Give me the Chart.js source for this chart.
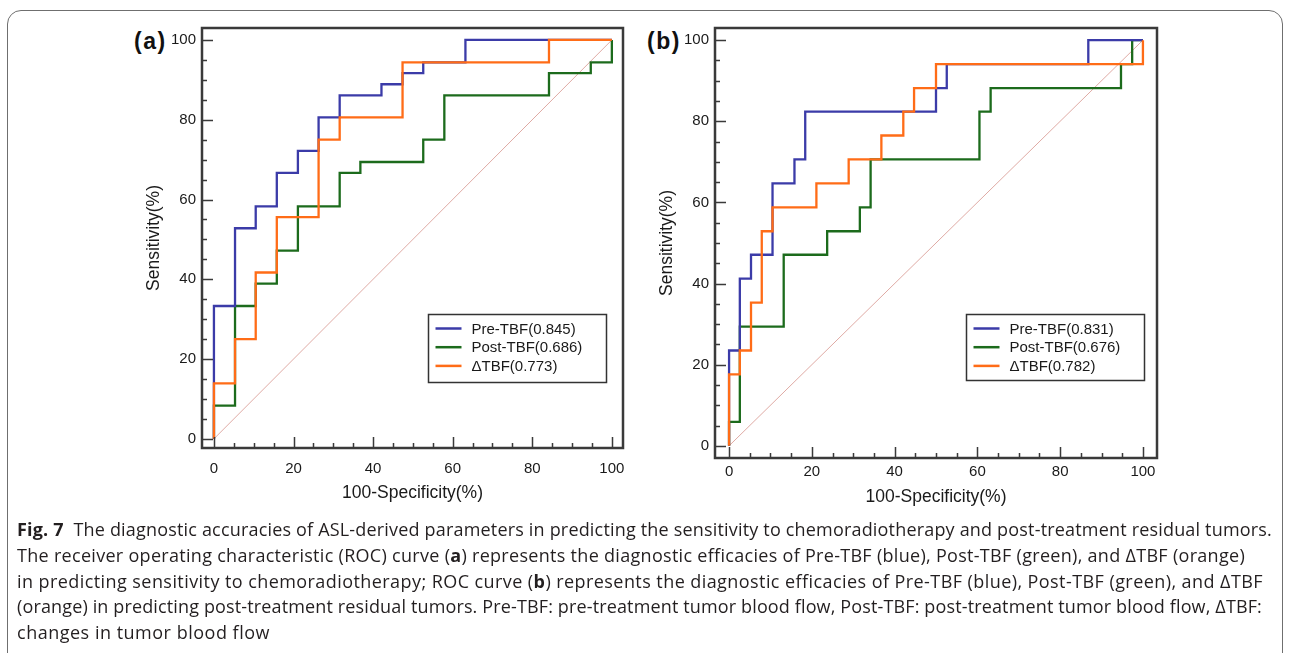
<!DOCTYPE html>
<html>
<head>
<meta charset="utf-8">
<script src="https://cdn.jsdelivr.net/npm/chart.js@4.4.1/dist/chart.umd.min.js"></script>
<style>
  body { margin: 0; width: 1290px; height: 653px; background: #fff; position: relative; overflow: hidden; }
  #frame { position: absolute; left: 7px; top: 10px; width: 1274px; height: 670px; border: 1.5px solid #6f6f6f; border-radius: 14px; }
  canvas { position: absolute; }
  .tag { position: absolute; font: bold 23px "Liberation Sans", Arial, sans-serif; letter-spacing: 1.5px; color: #111; }
  #caption { position: absolute; left: 17px; top: 517px; font-family: "Open Sans", "Noto Sans", sans-serif; font-size: 18px; line-height: 25.8px; color: #231f20; }
  #caption div { white-space: nowrap; }
</style>
</head>
<body>
<div id="frame"></div>
<div class="tag" style="left:134px; top:28px;">(a)</div>
<div class="tag" style="left:647px; top:28px;">(b)</div>
<canvas id="rocA" width="540" height="500" style="left:100px; top:10px;"></canvas>
<canvas id="rocB" width="560" height="510" style="left:612px; top:10px;"></canvas>
<div id="caption">
  <div><b>Fig. 7</b>&nbsp; The diagnostic accuracies of ASL-derived parameters in predicting the sensitivity to chemoradiotherapy and post-treatment residual tumors.</div>
  <div>The receiver operating characteristic (ROC) curve (<b>a</b>) represents the diagnostic efficacies of Pre-TBF (blue), Post-TBF (green), and ΔTBF (orange)</div>
  <div>in predicting sensitivity to chemoradiotherapy; ROC curve (<b>b</b>) represents the diagnostic efficacies of Pre-TBF (blue), Post-TBF (green), and ΔTBF</div>
  <div>(orange) in predicting post-treatment residual tumors. Pre-TBF: pre-treatment tumor blood flow, Post-TBF: post-treatment tumor blood flow, ΔTBF:</div>
  <div>changes in tumor blood flow</div>
</div>
<script>
// Axis tick labels (both panels)
const axisTicks = [0, 20, 40, 60, 80, 100];

// Panel (a): sensitivity to chemoradiotherapy
// ROC corner points, 100-Specificity (%) and Sensitivity (%)
const labelsA = ['Pre-TBF(0.845)', 'Post-TBF(0.686)', 'ΔTBF(0.773)'];
const preA_x  = [0, 0, 5.3, 10.5, 15.8, 21.1, 26.3, 31.6, 42.1, 47.4, 52.6, 63.2, 100];
const preA_y  = [0, 33.3, 52.8, 58.3, 66.7, 72.2, 80.6, 86.1, 88.9, 91.7, 94.4, 100, 100];
const postA_x = [0, 0, 5.3, 10.5, 15.8, 21.1, 31.6, 36.8, 52.6, 57.9, 84.2, 94.7, 100];
const postA_y = [0, 8.3, 33.3, 38.9, 47.2, 58.3, 66.7, 69.4, 75.0, 86.1, 91.7, 94.4, 100];
const deltaA_x = [0, 0, 5.3, 10.5, 15.8, 26.3, 31.6, 47.4, 84.2, 100];
const deltaA_y = [0, 13.9, 25.0, 41.7, 55.6, 75.0, 80.6, 94.4, 100, 100];

// Panel (b): post-treatment residual tumors
const labelsB = ['Pre-TBF(0.831)', 'Post-TBF(0.676)', 'ΔTBF(0.782)'];
const preB_x  = [0, 0, 2.6, 5.3, 10.5, 15.8, 18.4, 50.0, 52.6, 86.8, 100];
const preB_y  = [0, 23.5, 41.2, 47.1, 64.7, 70.6, 82.4, 88.2, 94.1, 100, 100];
const postB_x = [0, 0, 2.6, 13.2, 23.7, 31.6, 34.2, 60.5, 63.2, 94.7, 97.4, 100];
const postB_y = [0, 5.9, 29.4, 47.1, 52.9, 58.8, 70.6, 82.4, 88.2, 94.1, 100, 100];
const deltaB_x = [0, 0, 2.6, 5.3, 7.9, 10.5, 21.1, 28.9, 36.8, 42.1, 44.7, 50.0, 100];
const deltaB_y = [0, 17.6, 23.5, 35.3, 52.9, 58.8, 64.7, 70.6, 76.5, 82.4, 88.2, 94.1, 100];

// Reference line
const diag_x = [0, 100];
const diag_y = [0, 100];

const COLORS = {
    pre: '#3b3ba8',   // blue
    post: '#1c6b1c',  // green
    delta: '#ff6c17', // orange
    diag: '#dfaaa4'
};

Chart.defaults.font.family = '"Liberation Sans", Arial, sans-serif';
Chart.defaults.color = '#1a1a1a';

function toPoints(xs, ys) {
    return xs.map((v, i) => ({ x: v, y: ys[i] }));
}

// Draws the box frame, inward tick marks and the boxed legend
const rocFrame = {
    id: 'rocFrame',
    afterDatasetsDraw(chart, args, opts) {
        const { ctx, chartArea: a, scales: { x, y } } = chart;
        ctx.save();

        // minor / major ticks pointing into the plot
        ctx.strokeStyle = '#3a3a3a';
        ctx.lineWidth = 1.5;
        ctx.beginPath();
        for (let v = 0; v <= 100; v += 5) {
            const len = v % 20 === 0 ? 11 : 5;
            const px = Math.round(x.getPixelForValue(v)) + 0.5;
            ctx.moveTo(px, a.bottom);
            ctx.lineTo(px, a.bottom - len);
            const py = Math.round(y.getPixelForValue(v)) + 0.5;
            ctx.moveTo(a.left, py);
            ctx.lineTo(a.left + len, py);
        }
        ctx.stroke();

        ctx.lineWidth = 2.5;
        ctx.strokeRect(a.left, a.top, a.right - a.left, a.bottom - a.top);

        // legend
        const bx = Math.round(x.getPixelForValue(opts.left)) + 0.5;
        const by = Math.round(y.getPixelForValue(opts.top)) + 0.5;
        ctx.fillStyle = '#fff';
        ctx.fillRect(bx, by, opts.width, opts.height);
        ctx.lineWidth = 1.5;
        ctx.strokeStyle = '#333';
        ctx.strokeRect(bx, by, opts.width, opts.height);

        ctx.font = '15px "Liberation Sans", Arial, sans-serif';
        ctx.textBaseline = 'middle';
        const items = chart.data.datasets.filter(d => d.label);
        items.forEach((d, i) => {
            const ry = by + 14 + i * 18.7;
            ctx.strokeStyle = d.borderColor;
            ctx.lineWidth = 2.5;
            ctx.beginPath();
            ctx.moveTo(bx + 7, ry);
            ctx.lineTo(bx + 33, ry);
            ctx.stroke();
            ctx.fillStyle = '#1a1a1a';
            ctx.fillText(d.label, bx + 43, ry + 1);
        });
        ctx.restore();
    }
};

function makeRoc(canvasId, labels, series, opts) {
    const datasets = [
        { label: labels[0], data: toPoints(series[0][0], series[0][1]), borderColor: COLORS.pre, order: 1 },
        { label: labels[1], data: toPoints(series[1][0], series[1][1]), borderColor: COLORS.post, order: 2 },
        { label: labels[2], data: toPoints(series[2][0], series[2][1]), borderColor: COLORS.delta, order: 0 },
        { label: '', data: toPoints(diag_x, diag_y), borderColor: COLORS.diag, borderWidth: 1, stepped: false, order: 3 }
    ];

    const axis = (min, max, title, isX) => ({
        type: 'linear',
        min: min,
        max: max,
        afterBuildTicks: s => { s.ticks = axisTicks.map(v => ({ value: v })); },
        afterFit: s => {
            if (isX) s.height = opts.xHeight; else s.width = opts.yWidth;
        },
        grid: { display: false, drawTicks: false, tickLength: 0 },
        border: { display: false },
        ticks: {
            autoSkip: false,
            maxRotation: 0,
            padding: isX ? opts.xPad : 6,
            font: { size: 15 },
            color: '#1a1a1a'
        },
        title: {
            display: true,
            text: title,
            font: { size: 17.5 },
            color: '#1a1a1a',
            padding: isX ? { top: 0, bottom: opts.xTitlePad } : { top: opts.yTitlePad, bottom: 0 }
        }
    });

    return new Chart(document.getElementById(canvasId), {
        type: 'line',
        data: { datasets: datasets },
        options: {
            responsive: false,
            animation: false,
            devicePixelRatio: 1,
            layout: { padding: { top: 18, right: opts.padRight, left: 0, bottom: 0 } },
            elements: {
                point: { radius: 0 },
                line: { borderWidth: 2.3, stepped: 'before', tension: 0 }
            },
            plugins: {
                legend: { display: false },
                tooltip: { enabled: false },
                rocFrame: opts.legend
            },
            scales: {
                x: axis(opts.xRange[0], opts.xRange[1], '100-Specificity(%)', true),
                y: axis(opts.yRange[0], opts.yRange[1], 'Sensitivity(%)', false)
            }
        },
        plugins: [rocFrame]
    });
}

makeRoc('rocA', labelsA,
    [[preA_x, preA_y], [postA_x, postA_y], [deltaA_x, deltaA_y]],
    {
        xRange: [-3.0, 102.8], yRange: [-2.3, 103.0],
        yWidth: 102, xHeight: 62, padRight: 17,
        xPad: 11.5, xTitlePad: 6.5, yTitlePad: 43.5,
        legend: { left: 53.7, top: 31.3, width: 178, height: 68 }
    });

makeRoc('rocB', labelsB,
    [[preB_x, preB_y], [postB_x, postB_y], [deltaB_x, deltaB_y]],
    {
        xRange: [-3.4, 103.4], yRange: [-3.0, 103.0],
        yWidth: 103, xHeight: 62, padRight: 15,
        xPad: 4.5, xTitlePad: 12.5, yTitlePad: 44.5,
        legend: { left: 57.3, top: 32.4, width: 178, height: 66 }
    });

// Stretch caption lines to the widths seen in the figure
const lineEnds = [1272, 1245, 1263, 1262, 270];
document.querySelectorAll('#caption div').forEach((el, i) => {
    const span = document.createElement('span');
    span.innerHTML = el.innerHTML;
    el.innerHTML = '';
    el.appendChild(span);
    const w = span.getBoundingClientRect().width;
    const n = span.textContent.length;
    const target = lineEnds[i] - 17;
    el.style.letterSpacing = ((target - w) / n) + 'px';
});
</script>
</body>
</html>
